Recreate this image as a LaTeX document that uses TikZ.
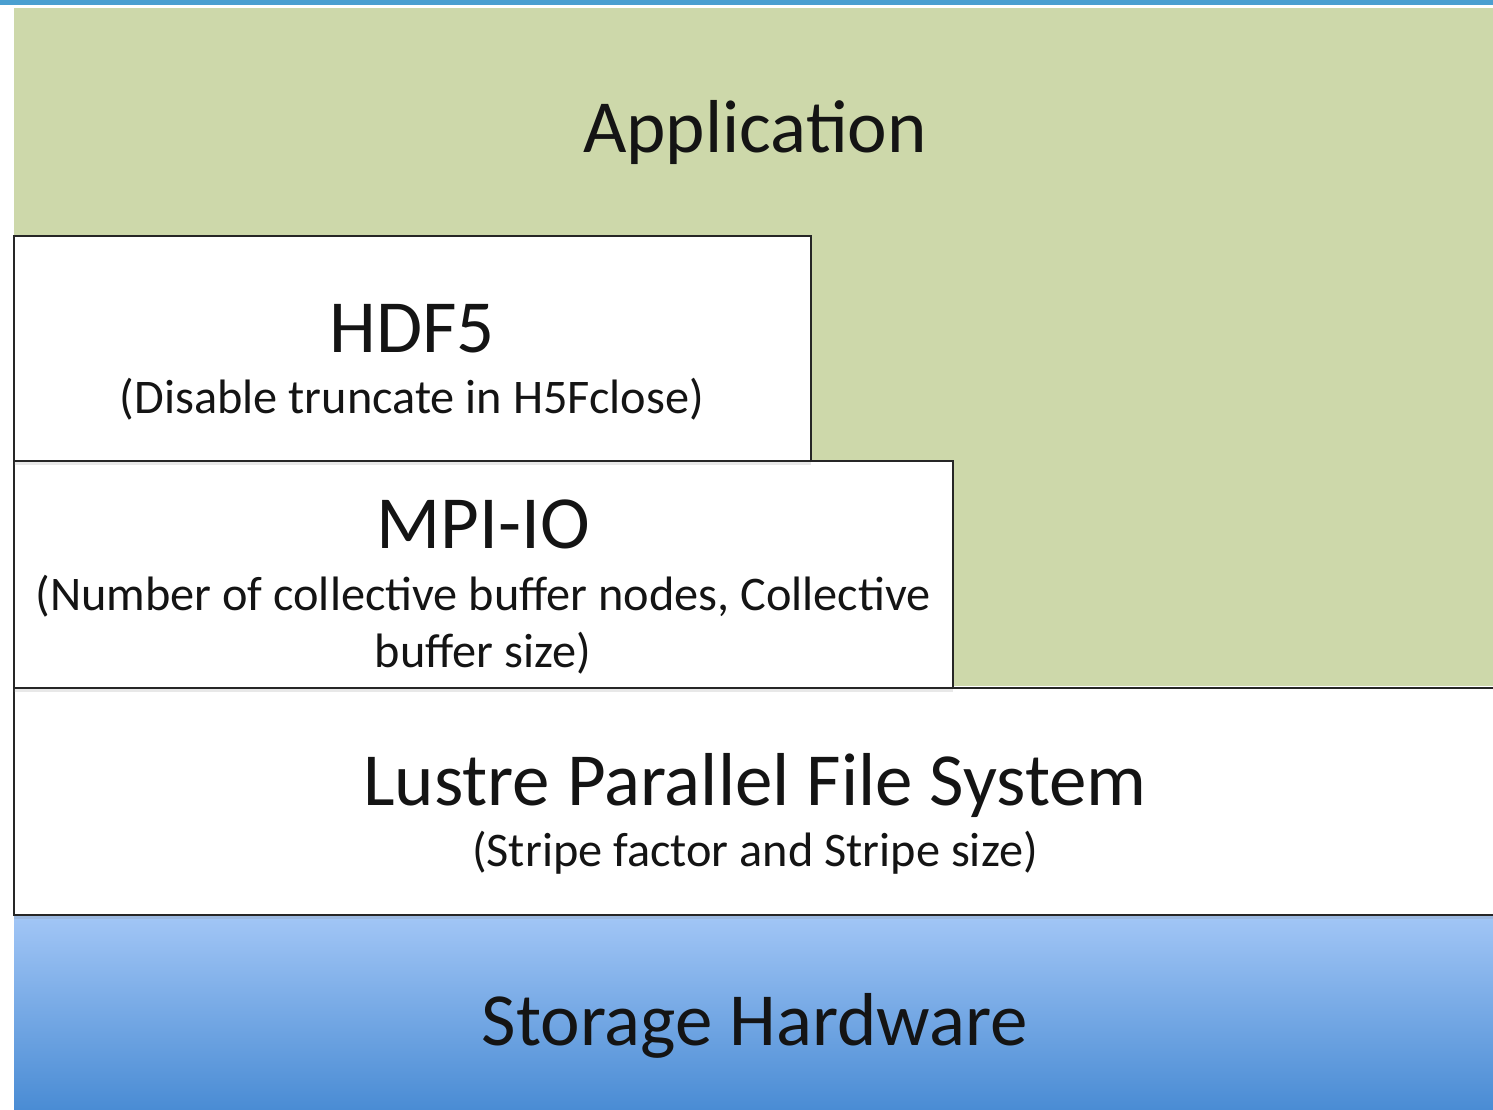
\documentclass[tikz,border=0pt]{standalone}
\usepackage{fontspec}
\setmainfont{Carlito}
\usetikzlibrary{shadows}
\definecolor{appgreen}{HTML}{CDD8AA}
\definecolor{topblue}{HTML}{4A9FD0}
\definecolor{hwtop}{HTML}{A2C6F6}
\definecolor{hwbot}{HTML}{4A8CD4}
\tikzset{
  layerbox/.style={draw=black!85, line width=2pt, fill=white,
    drop shadow={shadow xshift=0pt, shadow yshift=-4pt, opacity=0.18}},
  big/.style={font=\fontsize{75}{78}\selectfont, anchor=base, inner sep=0pt, text=black!92},
  small/.style={font=\fontsize{48.3}{52}\selectfont, anchor=base, inner sep=0pt, text=black!92},
}
\begin{document}
\begin{tikzpicture}[x=1pt,y=-1pt]
\useasboundingbox (0,0) rectangle (1493,1109);
\fill[white] (0,0) rectangle (1493,1109);
% top rule
\fill[topblue] (0,0) rectangle (1493,5);
% application
\fill[appgreen] (14,8) rectangle (1493,686);
% storage
\shade[top color=hwtop, bottom color=hwbot] (14,915) rectangle (1493,1109);
% layers
\draw[layerbox] (14,688) rectangle (1500,915);
\draw[layerbox] (14,461) rectangle (953,688);
\draw[layerbox] (14,236) rectangle (811,461);
% texts
\node[big] (app) at (755,152) {Application};
\node[big] (hdf) at (412,352) {HDF5};
\node[small] (hdfs) at (412,413) {(Disable truncate in H5Fclose)};
\node[big] (mpi) at (483,548) {MPI-IO};
\node[small] (mpisa) at (483,610) {(Number of collective buffer nodes, Collective};
\node[small] (mpisb) at (483,667) {buffer size)};
\node[big] (lus) at (755,805) {Lustre Parallel File System};
\node[small] (luss) at (755,866) {(Stripe factor and Stripe size)};
\node[big] (hw) at (755,1045) {Storage Hardware};
\end{tikzpicture}
\end{document}
